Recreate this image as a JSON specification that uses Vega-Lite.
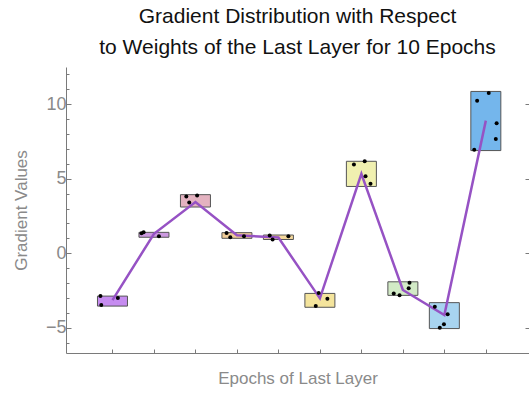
{
  "$schema": "https://vega.github.io/schema/vega-lite/v6.json",
  "autosize": "none",
  "width": 463,
  "height": 286,
  "padding": {"left": 66, "top": 67, "right": 0, "bottom": 40},
  "background": "white",
  "config": {
    "view": {"stroke": null},
    "font": "Liberation Sans",
    "axis": {"grid": false, "domainColor": "#7a7a7a", "tickColor": "#7a7a7a", "labelColor": "#8a8a8a", "titleColor": "#8a8a8a", "labelFont": "Liberation Sans", "titleFont": "Liberation Sans", "titleFontWeight": "normal", "labelFontSize": 18, "titleFontSize": 17}
  },
  "title": {
    "text": ["Gradient Distribution with Respect", "to Weights of the Last Layer for 10 Epochs"],
    "fontSize": 21,
    "fontWeight": "normal",
    "font": "Liberation Sans",
    "color": "#111111",
    "anchor": "middle",
    "lineHeight": 31,
    "offset": 9
  },
  "datasets": {
    "boxes": [
      {"epoch": 1, "lo": -3.55, "hi": -2.88, "mean": -3.15},
      {"epoch": 2, "lo": 1.07, "hi": 1.4, "mean": 1.3},
      {"epoch": 3, "lo": 3.1, "hi": 3.93, "mean": 3.43},
      {"epoch": 4, "lo": 1.0, "hi": 1.38, "mean": 1.2},
      {"epoch": 5, "lo": 0.92, "hi": 1.22, "mean": 1.05},
      {"epoch": 6, "lo": -3.63, "hi": -2.7, "mean": -3.03},
      {"epoch": 7, "lo": 4.48, "hi": 6.17, "mean": 5.33},
      {"epoch": 8, "lo": -2.83, "hi": -1.92, "mean": -2.47},
      {"epoch": 9, "lo": -5.06, "hi": -3.32, "mean": -4.15},
      {"epoch": 10, "lo": 6.89, "hi": 10.86, "mean": 8.9}
    ],
    "points": [
      {"epoch": 1, "pos": 0.71, "value": -2.88},
      {"epoch": 1, "pos": 0.73, "value": -3.48},
      {"epoch": 1, "pos": 1.13, "value": -3.0},
      {"epoch": 2, "pos": 1.7, "value": 1.34},
      {"epoch": 2, "pos": 1.75, "value": 1.4},
      {"epoch": 2, "pos": 2.12, "value": 1.14},
      {"epoch": 3, "pos": 2.78, "value": 3.81},
      {"epoch": 3, "pos": 3.04, "value": 3.88},
      {"epoch": 3, "pos": 2.85, "value": 3.41},
      {"epoch": 4, "pos": 3.75, "value": 1.36},
      {"epoch": 4, "pos": 3.84, "value": 1.07},
      {"epoch": 4, "pos": 4.17, "value": 1.14},
      {"epoch": 5, "pos": 4.79, "value": 1.18},
      {"epoch": 5, "pos": 4.86, "value": 0.92},
      {"epoch": 5, "pos": 5.24, "value": 1.14},
      {"epoch": 6, "pos": 5.97, "value": -2.68},
      {"epoch": 6, "pos": 5.9, "value": -3.55},
      {"epoch": 6, "pos": 6.18, "value": -3.06},
      {"epoch": 7, "pos": 6.82, "value": 5.95},
      {"epoch": 7, "pos": 7.08, "value": 6.17},
      {"epoch": 7, "pos": 7.1, "value": 5.17},
      {"epoch": 7, "pos": 7.22, "value": 4.66},
      {"epoch": 8, "pos": 7.78, "value": -2.7},
      {"epoch": 8, "pos": 7.92, "value": -2.83},
      {"epoch": 8, "pos": 8.16, "value": -1.98},
      {"epoch": 8, "pos": 8.14, "value": -2.36},
      {"epoch": 9, "pos": 8.77, "value": -3.59},
      {"epoch": 9, "pos": 9.08, "value": -4.1},
      {"epoch": 9, "pos": 8.99, "value": -4.77},
      {"epoch": 9, "pos": 8.89, "value": -5.0},
      {"epoch": 10, "pos": 9.79, "value": 10.23},
      {"epoch": 10, "pos": 10.07, "value": 10.75},
      {"epoch": 10, "pos": 10.26, "value": 8.72},
      {"epoch": 10, "pos": 10.24, "value": 7.67},
      {"epoch": 10, "pos": 9.72, "value": 6.94}
    ]
  },
  "resolve": {"axis": {"y": "independent", "x": "independent"}},
  "layer": [
    {
      "data": {"name": "boxes"},
      "mark": {"type": "bar", "size": 30, "stroke": "#555555", "strokeWidth": 1},
      "encoding": {
        "x": {"field": "epoch", "type": "quantitative", "scale": {"domain": [0, 10.92], "nice": false, "zero": false},
          "axis": {"title": "Epochs of Last Layer", "values": [1,2,3,4,5,6,7,8,9,10], "labels": false, "tickSize": -4, "titlePadding": 17, "domainWidth": 1}},
        "y": {"field": "lo", "type": "quantitative", "scale": {"domain": [-6.7, 12.5], "nice": false, "zero": false},
          "axis": {"title": "Gradient Values", "values": [-6,-5,-4,-3,-2,-1,0,1,2,3,4,5,6,7,8,9,10,11,12],
            "labelExpr": "datum.value % 5 === 0 ? datum.label : ''",
            "tickSize": {"condition": {"test": "datum.value % 5 === 0", "value": -5}, "value": -3},
            "labelPadding": 5, "titlePadding": 15}},
        "y2": {"field": "hi"},
        "color": {"field": "epoch", "type": "nominal", "legend": null,
          "scale": {"domain": [1,2,3,4,5,6,7,8,9,10], "range": ["#c68cf0", "#cc9ae0", "#e4b2c0", "#f0cc98", "#f4d89c", "#f4e49c", "#f0f0b0", "#d2eac6", "#a8d4f0", "#74b6ec"]}}
      }
    },
    {
      "data": {"name": "boxes"},
      "mark": {"type": "line", "color": "#9652c4", "strokeWidth": 2.5},
      "encoding": {
        "x": {"field": "epoch", "type": "quantitative", "axis": null},
        "y": {"field": "mean", "type": "quantitative",
          "axis": {"orient": "right", "title": null, "labels": false, "domain": false, "values": [-5, 0, 5, 10], "tickSize": -4}}
      }
    },
    {
      "data": {"name": "points"},
      "mark": {"type": "circle", "color": "black", "opacity": 1, "size": 16},
      "encoding": {
        "x": {"field": "pos", "type": "quantitative", "axis": null},
        "y": {"field": "value", "type": "quantitative", "axis": null}
      }
    }
  ]
}
